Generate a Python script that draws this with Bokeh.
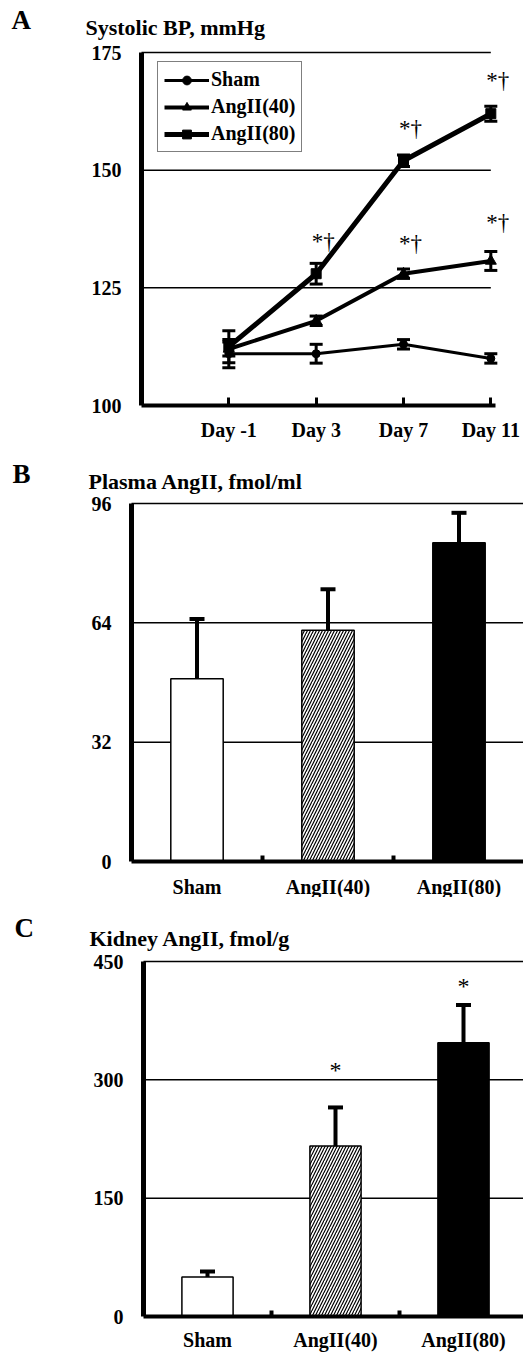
from bokeh.plotting import figure
from bokeh.layouts import column
from bokeh.models import FixedTicker, Label, Range1d
from bokeh.core.properties import value
from bokeh.embed import file_html
from bokeh.resources import INLINE

# ---------------- data ----------------
days = ["Day -1", "Day 3", "Day 7", "Day 11"]
series_names = ["Sham", "AngII(40)", "AngII(80)"]

sham_bp = [111.0, 111.0, 113.0, 110.0]
sham_sem = [3.0, 2.0, 1.0, 1.0]
ang40_bp = [112.0, 118.0, 128.0, 130.7]
ang40_sem = [1.5, 1.0, 1.0, 2.0]
ang80_bp = [112.5, 128.0, 152.0, 162.0]
ang80_sem = [3.4, 2.2, 1.2, 1.6]

bp_ticks = [100, 125, 150, 175]
bp_sig_series = ["AngII(80)", "AngII(80)", "AngII(80)", "AngII(40)", "AngII(40)"]
bp_sig_day = ["Day 3", "Day 7", "Day 11", "Day 7", "Day 11"]
bp_sig_level = [135.5, 159.5, 169.6, 135.0, 139.5]
bp_sig_text = ["*†", "*†", "*†", "*†", "*†"]

groups = ["Sham", "AngII(40)", "AngII(80)"]
plasma_angii = [49.0, 62.0, 85.5]
plasma_sem = [16.0, 11.0, 8.0]
plasma_ticks = [0, 32, 64, 96]

kidney_angii = [50.0, 216.0, 347.0]
kidney_sem = [7.0, 49.0, 48.0]
kidney_ticks = [0, 150, 300, 450]
kidney_sig_groups = ["AngII(40)", "AngII(80)"]
kidney_sig_level = [315.0, 422.0]

FONT = "Liberation Serif"
W = 523


class Panel:
    """Pixel layout of one panel (page coordinates) and its data scales."""
    def __init__(self, fig_top, height, ax_x, x_at_axis, sx, frame_bottom, y0, sy):
        self.fig_top, self.height = fig_top, height
        self.ax_x, self.x_at_axis, self.sx = ax_x, x_at_axis, sx
        self.frame_bottom, self.y0, self.sy = frame_bottom, y0, sy

    def dx(self, px):
        return self.x_at_axis + (px - self.ax_x) / self.sx

    def dy(self, py):
        return self.y0 + (self.frame_bottom - py) / self.sy

    def ranges(self):
        return (Range1d(self.dx(0), self.dx(W)),
                Range1d(self.dy(self.fig_top + self.height), self.dy(self.fig_top)))


def make_fig(L):
    xr, yr = L.ranges()
    p = figure(width=W, height=L.height, x_range=xr, y_range=yr,
               output_backend="svg", toolbar_location=None,
               min_border_left=0, min_border_right=0, min_border_top=0,
               min_border_bottom=0)
    p.outline_line_color = None
    p.background_fill_color = "white"
    p.border_fill_color = "white"
    p.xgrid.visible = False
    p.ygrid.visible = False
    for ax in (p.xaxis[0], p.yaxis[0]):
        ax.major_label_text_font = FONT
        ax.major_label_text_font_style = "bold"
        ax.major_label_text_font_size = "20px"
        ax.major_label_text_color = "black"
        ax.axis_line_color = "black"
        ax.major_tick_line_color = "black"
        ax.minor_tick_line_color = "black"
    p.yaxis.axis_line_width = 5
    p.yaxis.major_tick_in = 0
    p.yaxis.major_tick_out = 0
    p.yaxis.minor_tick_in = 0
    p.yaxis.minor_tick_out = 0
    p.yaxis.major_label_standoff = 20
    p.yaxis.fixed_location = L.x_at_axis
    p.xaxis.fixed_location = L.y0
    p.xaxis.axis_line_width = 4
    return p


def add_label(p, L, px, py, text, size):
    p.add_layout(Label(x=L.dx(px), y=L.dy(py), text=text, text_font=FONT,
                       text_font_style="bold", text_font_size=size,
                       text_color="black", text_baseline="alphabetic"))


# ---------------- Panel A ----------------
xi = list(range(len(days)))
LA = Panel(fig_top=0, height=442, ax_x=141, x_at_axis=-1, sx=87.33,
           frame_bottom=405, y0=100, sy=(405 - 52) / 75)
pA = make_fig(LA)
pA.yaxis.ticker = FixedTicker(ticks=bp_ticks)
pA.yaxis.bounds = (bp_ticks[0], bp_ticks[-1])
pA.xaxis.ticker = FixedTicker(ticks=xi)
pA.xaxis.major_label_overrides = {i: d for i, d in enumerate(days)}
pA.xaxis.bounds = (-1, 3.05)
pA.xaxis.major_tick_in = 8
pA.xaxis.major_tick_out = 0
pA.xaxis.major_tick_line_width = 3
pA.xaxis.major_label_standoff = 13

pA.segment(x0=-1, y0=bp_ticks[1:], x1=xi[-1], y1=bp_ticks[1:], line_color="black",
           line_width=1.5, level="underlay")

bp_data = {"Sham": (sham_bp, sham_sem), "AngII(40)": (ang40_bp, ang40_sem),
           "AngII(80)": (ang80_bp, ang80_sem)}
markers = {"Sham": ("circle", 8), "AngII(40)": ("triangle", 11), "AngII(80)": ("square", 10)}
widths = {"Sham": 3, "AngII(40)": 4, "AngII(80)": 5}
for name in series_names:
    vals, sem = bp_data[name]
    lo = [v - s for v, s in zip(vals, sem)]
    hi = [v + s for v, s in zip(vals, sem)]
    pA.segment(x0=xi, y0=lo, x1=xi, y1=hi, line_color="black", line_width=3)
    pA.scatter(x=xi, y=lo, marker="dash", size=13, line_color="black", line_width=3)
    pA.scatter(x=xi, y=hi, marker="dash", size=13, line_color="black", line_width=3)
    pA.line(x=xi, y=vals, line_color="black", line_width=widths[name], legend_label=name)
    m, s = markers[name]
    pA.scatter(x=xi, y=vals, marker=m, size=s, fill_color="black", line_color="black",
               legend_label=name)

sig_x = [days.index(d) for d in bp_sig_day]
pA.text(x=sig_x, y=bp_sig_level, text=bp_sig_text, text_font=value(FONT),
        text_font_size="23px", text_align="center", text_baseline="middle",
        x_offset=7, y_offset=3, text_color="black")

leg = pA.legend[0]
leg.location = (157, 290)
leg.label_text_font = FONT
leg.label_text_font_style = "bold"
leg.label_text_font_size = "20px"
leg.label_text_color = "black"
leg.glyph_width = 45
leg.glyph_height = 22
leg.label_height = 22
leg.label_standoff = 2
leg.spacing = 4
leg.padding = 6
leg.margin = 0
leg.border_line_color = "black"
leg.border_line_width = 1.5
leg.background_fill_alpha = 1.0

add_label(pA, LA, 11, 19, "A", "27px")
add_label(pA, LA, 85, 27, "Systolic BP, mmHg", "22px")


# ---------------- bar panels ----------------
bar_fill = ["white", "white", "black"]
bar_hatch = [" ", "/", " "]


def bar_panel(L, vals, sem, ticks, standoff):
    p = make_fig(L)
    gx = list(range(len(groups)))
    x_end = L.dx(W)
    p.segment(x0=-0.5, y0=ticks[1:], x1=x_end, y1=ticks[1:], line_color="black",
              line_width=1.5, level="underlay")
    p.yaxis.ticker = FixedTicker(ticks=ticks)
    p.yaxis.bounds = (ticks[0], ticks[-1])
    p.xaxis.bounds = (-0.5, x_end)
    p.xaxis.ticker = FixedTicker(ticks=gx, minor_ticks=[g + 0.5 for g in gx[:-1]])
    p.xaxis.major_label_overrides = {i: g for i, g in enumerate(groups)}
    p.xaxis.major_tick_in = 0
    p.xaxis.major_tick_out = 0
    p.xaxis.minor_tick_in = 6
    p.xaxis.minor_tick_out = 0
    p.xaxis.minor_tick_line_width = 4
    p.xaxis.major_label_standoff = standoff
    for i in gx:
        p.vbar(x=[gx[i]], top=[vals[i]], bottom=0, width=0.4, fill_color=bar_fill[i],
               line_color="black", line_width=1.5, hatch_pattern=bar_hatch[i],
               hatch_color="black", hatch_scale=6, hatch_weight=1.2)
    hi = [v + s for v, s in zip(vals, sem)]
    p.segment(x0=gx, y0=vals, x1=gx, y1=hi, line_color="black", line_width=4)
    p.scatter(x=gx, y=hi, marker="dash", size=15, line_color="black", line_width=4)
    return p


# B: figure spans page y 442..897, y=0 at 861, top tick at 503
LB = Panel(fig_top=442, height=455, ax_x=131, x_at_axis=-0.5, sx=131.0,
           frame_bottom=861, y0=0, sy=(861 - 503) / 96)
pB = bar_panel(LB, plasma_angii, plasma_sem, plasma_ticks, 14)
add_label(pB, LB, 12, 473, "B", "27px")
add_label(pB, LB, 88, 481, "Plasma AngII, fmol/ml", "22px")

# C: figure spans page y 897..1352, y=0 at 1316, top tick at 961
LC = Panel(fig_top=897, height=455, ax_x=143, x_at_axis=-0.5, sx=128.0,
           frame_bottom=1316, y0=0, sy=(1316 - 961) / 450)
pC = bar_panel(LC, kidney_angii, kidney_sem, kidney_ticks, 12)
pC.text(x=[groups.index(g) for g in kidney_sig_groups], y=kidney_sig_level,
        text=["*"] * len(kidney_sig_groups), text_font=value(FONT), text_font_size="24px",
        text_align="center", text_baseline="middle", y_offset=2, text_color="black")
add_label(pC, LC, 14, 927, "C", "27px")
add_label(pC, LC, 89, 938, "Kidney AngII, fmol/g", "22px")

layout = column(pA, pB, pC, spacing=0)
open("out.html", "w").write(file_html(layout, INLINE))
